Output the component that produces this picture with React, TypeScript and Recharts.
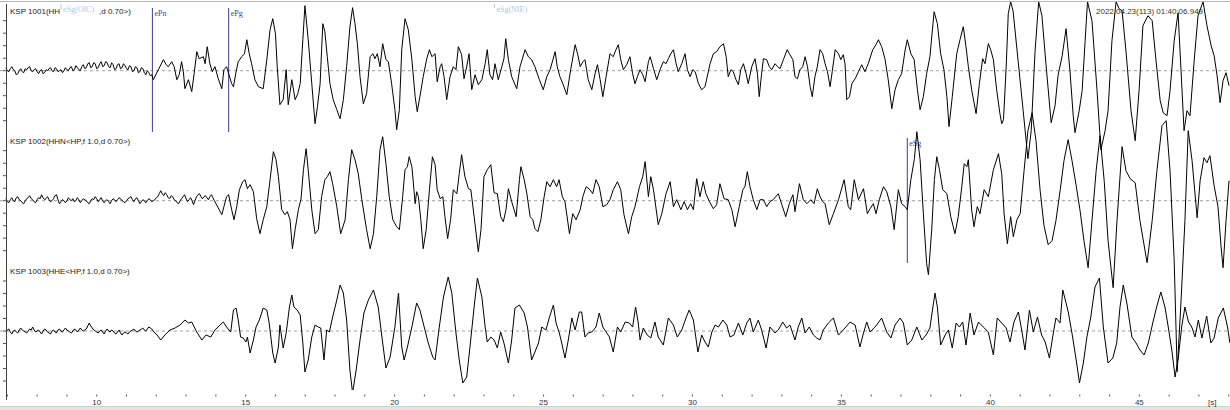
import { Line, LineChart, ReferenceLine, XAxis, YAxis } from "recharts";

// three seismogram channels, [time in s, amplitude]
const hhzTrace: [number, number][] = [
  [6.95, 3], [7.0, 0], [7.05, -1], [7.1, 2], [7.15, 4], [7.2, 1], [7.25, 0], [7.3, -4], [7.35, -3], [7.4, 0],
  [7.45, 2], [7.5, -1], [7.55, -2], [7.6, 2], [7.65, 1], [7.7, 3], [7.75, 4], [7.8, 0], [7.85, -1], [7.9, 1],
  [7.95, 2], [8.0, -1], [8.05, -3], [8.1, 0], [8.15, 1], [8.2, -3], [8.25, -2], [8.3, 1], [8.35, 0], [8.4, 2],
  [8.45, 3], [8.5, 0], [8.55, -1], [8.6, 3], [8.65, 2], [8.7, -1], [8.75, 0], [8.8, 1], [8.85, -2], [8.9, 0],
  [8.95, 3], [9.0, 1], [9.05, 0], [9.1, 3], [9.15, 4], [9.2, 0], [9.25, 1], [9.3, 5], [9.35, 3], [9.4, 1],
  [9.45, 0], [9.5, 4], [9.55, 6], [9.6, 2], [9.65, 3], [9.7, 7], [9.75, 8], [9.8, 3], [9.85, 4], [9.9, 8],
  [9.95, 7], [10.0, 2], [10.05, 3], [10.1, 7], [10.15, 9], [10.2, 4], [10.25, 5], [10.3, 9], [10.35, 8], [10.4, 4],
  [10.45, 3], [10.5, 8], [10.55, 6], [10.6, 1], [10.65, 2], [10.7, 6], [10.75, 7], [10.8, 2], [10.85, 3], [10.9, 7],
  [10.95, 5], [11.0, 2], [11.05, 1], [11.1, 5], [11.15, 4], [11.2, -1], [11.25, 0], [11.3, 4], [11.35, 3], [11.4, -2],
  [11.45, -1], [11.5, 3], [11.55, 2], [11.6, -2], [11.65, -4], [11.7, 0], [11.75, -2], [11.8, -5], [11.85, -4],
  [11.9, -9], [12.07, 1], [12.24, 11], [12.33, 6], [12.4, 4], [12.52, 9], [12.6, 4], [12.69, -9], [12.77, -4], [12.85, 9],
  [12.91, -1], [12.96, -18], [13.08, -9], [13.19, -21], [13.27, -3], [13.36, 19], [13.44, 12], [13.58, 14], [13.64, 7], [13.71, 24],
  [13.8, 7], [13.88, -1], [13.97, 4], [14.08, -8], [14.2, -18], [14.27, 1], [14.36, 4], [14.43, -3], [14.53, -13], [14.59, -16],
  [14.68, -1], [14.75, 9], [14.87, 14], [14.96, 17], [15.04, 31], [15.12, 17], [15.2, 7], [15.31, -9], [15.43, -16], [15.59, -18],
  [15.71, 11], [15.82, 41], [15.91, 52], [16.0, 37], [16.06, 4], [16.15, -34], [16.26, -29], [16.36, 1], [16.43, -34], [16.55, -9],
  [16.66, -29], [16.75, -23], [16.83, -13], [16.92, 31], [16.99, 65], [17.1, 31], [17.22, -13], [17.33, -53], [17.41, -36], [17.5, -13],
  [17.55, 21], [17.59, 47], [17.66, 39], [17.74, 14], [17.83, -13], [17.94, -29], [18.06, -39], [18.17, -48], [18.28, -29], [18.39, 4],
  [18.5, 44], [18.59, 63], [18.67, 47], [18.75, 27], [18.84, -6], [18.95, -33], [19.06, -23], [19.18, 14], [19.27, 17], [19.34, 12],
  [19.42, 17], [19.51, 4], [19.6, 27], [19.71, 11], [19.79, 9], [19.9, -13], [20.01, -39], [20.07, -59], [20.16, -39], [20.24, 21],
  [20.35, 52], [20.46, 41], [20.58, 11], [20.69, -26], [20.76, -41], [20.85, -26], [20.96, -6], [21.08, 12], [21.17, 21], [21.25, 14],
  [21.36, 17], [21.43, -11], [21.53, 4], [21.58, 7], [21.66, -6], [21.75, -29], [21.86, -6], [21.97, 4], [22.06, 1], [22.14, 24],
  [22.25, 16], [22.33, -8], [22.42, 4], [22.5, 17], [22.59, -19], [22.7, -4], [22.81, -14], [22.93, -9], [23.04, 7], [23.11, 21],
  [23.2, -4], [23.29, -9], [23.37, 7], [23.48, -9], [23.6, 4], [23.67, 12], [23.73, 32], [23.82, 11], [23.93, -6], [24.1, -18],
  [24.21, 4], [24.38, 21], [24.49, 14], [24.6, 11], [24.71, 4], [24.86, -9], [24.99, -19], [25.11, -6], [25.22, 1], [25.39, 19],
  [25.46, 4], [25.55, -6], [25.66, -14], [25.78, -24], [25.91, 1], [26.06, 26], [26.15, 16], [26.23, 4], [26.32, 9], [26.39, 11],
  [26.5, -9], [26.62, -19], [26.73, -3], [26.81, 6], [26.9, -9], [26.99, -26], [27.1, -6], [27.23, 17], [27.34, 14], [27.43, 21],
  [27.51, 26], [27.59, 11], [27.68, 1], [27.79, 6], [27.9, 14], [27.99, -3], [28.07, -13], [28.15, -6], [28.24, 1], [28.33, -4],
  [28.41, -11], [28.52, 9], [28.58, 14], [28.69, 2], [28.8, -9], [28.91, 1], [29.02, 9], [29.11, 7], [29.19, 12], [29.27, 17],
  [29.36, 21], [29.45, 7], [29.52, -1], [29.64, 7], [29.75, 17], [29.83, 1], [29.92, -6], [30.01, 1], [30.09, -1], [30.2, -13],
  [30.31, -19], [30.42, -16], [30.59, 7], [30.7, 17], [30.81, 19], [30.92, 24], [31.04, 27], [31.13, 14], [31.2, -6], [31.29, 1],
  [31.37, -1], [31.46, -9], [31.54, -14], [31.62, 1], [31.71, 7], [31.8, -3], [31.87, -13], [31.99, 4], [32.1, 12], [32.18, -3],
  [32.24, -26], [32.32, -3], [32.38, 12], [32.49, 11], [32.58, 4], [32.66, 1], [32.77, 7], [32.86, 4], [32.94, 2], [33.05, 11],
  [33.18, 21], [33.27, 16], [33.37, 11], [33.44, -6], [33.52, -8], [33.61, 1], [33.7, 4], [33.78, 14], [33.86, 4], [33.95, -16],
  [34.02, -26], [34.11, -6], [34.19, 4], [34.28, 21], [34.37, 17], [34.45, 7], [34.53, -1], [34.62, -16], [34.69, -1], [34.79, 21],
  [34.9, 17], [34.98, 11], [35.06, 16], [35.12, 7], [35.18, -29], [35.27, -26], [35.35, -13], [35.46, -8], [35.57, -1], [35.68, 6],
  [35.79, -1], [35.9, 7], [36.05, 21], [36.16, 26], [36.24, 31], [36.35, 24], [36.46, 12], [36.57, -9], [36.69, -38], [36.8, -19],
  [36.91, -9], [37.02, -3], [37.14, 21], [37.21, 31], [37.33, 17], [37.44, 11], [37.55, -19], [37.64, -39], [37.75, -26], [37.86, -3],
  [37.97, 14], [38.11, 59], [38.22, 47], [38.33, 17], [38.44, 1], [38.54, -26], [38.61, -56], [38.72, -26], [38.87, 17], [38.98, 31],
  [39.09, 44], [39.18, 24], [39.26, 4], [39.37, -19], [39.52, -43], [39.63, -13], [39.74, 12], [39.82, 7], [39.93, 27], [40.01, 21],
  [40.1, 11], [40.21, -19], [40.32, -43], [40.38, -53], [40.44, -49], [40.53, 4], [40.6, 57], [40.68, 69], [40.76, 60], [40.93, 10],
  [41.1, -40], [41.26, -88], [41.37, -60], [41.5, 20], [41.62, 69], [41.73, 55], [41.87, 5], [42.04, -52], [42.17, -35], [42.27, -5],
  [42.41, 15], [42.54, 42], [42.67, 0], [42.78, -45], [42.84, -62], [42.98, -40], [43.08, -20], [43.18, 30], [43.26, 69], [43.41, 50],
  [43.58, -20], [43.71, -79], [43.85, -60], [43.95, -40], [44.08, 30], [44.22, 69], [44.32, 62], [44.42, 60], [44.55, 20], [44.72, -40],
  [44.86, -70], [44.99, -20], [45.12, 45], [45.29, 55], [45.43, 50], [45.56, 10], [45.7, -30], [45.8, -42], [45.93, -45], [46.03, -20],
  [46.17, 30], [46.3, 58], [46.4, 0], [46.5, -60], [46.6, -40], [46.7, -45], [46.84, 10], [46.97, 55], [47.14, 69], [47.27, 45],
  [47.41, 25], [47.51, 15], [47.61, -5], [47.71, -32], [47.81, -10], [47.91, -2], [48.01, -15],
];

const hhnTrace: [number, number][] = [
  [6.95, 2], [7.0, -1], [7.05, -2], [7.1, 1], [7.15, 3], [7.2, 0], [7.25, -1], [7.3, 3], [7.35, 4], [7.4, 1],
  [7.45, 0], [7.5, -2], [7.55, -3], [7.6, 0], [7.65, 2], [7.7, 3], [7.75, 5], [7.8, 2], [7.85, 1], [7.9, -1],
  [7.95, -2], [8.0, 1], [8.05, 3], [8.1, 2], [8.15, 6], [8.2, 3], [8.25, 1], [8.3, 2], [8.35, 4], [8.4, 1],
  [8.45, -1], [8.5, 0], [8.55, 2], [8.6, 5], [8.65, 6], [8.7, 1], [8.75, -3], [8.8, -1], [8.85, 1], [8.9, 0],
  [8.95, -2], [9.0, 0], [9.05, 3], [9.1, 1], [9.15, 0], [9.2, 2], [9.25, -1], [9.3, 0], [9.35, 3], [9.4, 1],
  [9.45, -2], [9.5, 0], [9.55, 2], [9.6, 1], [9.65, 0], [9.7, -2], [9.75, -3], [9.8, 0], [9.85, 2], [9.9, 1],
  [9.95, 4], [10.0, 2], [10.05, -1], [10.1, 1], [10.15, 3], [10.2, 0], [10.25, -2], [10.3, 0], [10.35, 1], [10.4, -1],
  [10.45, -3], [10.5, 0], [10.55, 2], [10.6, 1], [10.65, -1], [10.7, 1], [10.75, 3], [10.8, 2], [10.85, 0], [10.9, -1],
  [10.95, -2], [11.0, 0], [11.05, 2], [11.1, 3], [11.15, 4], [11.2, 1], [11.25, -1], [11.3, 2], [11.35, 3], [11.4, 0],
  [11.45, -3], [11.5, -1], [11.55, 1], [11.6, 0], [11.65, -2], [11.7, 0], [11.75, 2], [11.8, 1], [11.85, -1], [11.9, 0],
  [11.95, 1], [12.0, 3], [12.05, 4], [12.1, 7], [12.15, 10], [12.2, 7], [12.25, 5], [12.3, 8], [12.35, 6], [12.4, 3],
  [12.45, 2], [12.5, 5], [12.55, 4], [12.6, 1], [12.65, 0], [12.7, -2], [12.75, -3], [12.8, 0], [12.85, 2], [12.9, 4],
  [12.95, 6], [13.0, 2], [13.05, -1], [13.1, 1], [13.15, 3], [13.2, 0], [13.25, -4], [13.3, 0], [13.35, 4], [13.4, 6],
  [13.45, 7], [13.5, 4], [13.55, 2], [13.6, 4], [13.65, 5], [13.7, 3], [13.75, 1], [13.8, 4], [13.85, 6], [13.9, 3],
  [13.95, 0], [14.2, -14], [14.27, -6], [14.36, 4], [14.43, 6], [14.53, -9], [14.61, -19], [14.7, -6], [14.79, 11], [14.9, 19],
  [14.98, 21], [15.06, 12], [15.15, 16], [15.26, 9], [15.37, -18], [15.48, -33], [15.59, -19], [15.71, -6], [15.82, 21], [15.93, 49],
  [16.02, 41], [16.1, 24], [16.21, -9], [16.32, -14], [16.4, -11], [16.49, -19], [16.57, -48], [16.66, -29], [16.77, -9], [16.86, 2],
  [16.94, 31], [17.03, 52], [17.1, 31], [17.22, -9], [17.33, -33], [17.44, -29], [17.55, 4], [17.66, 21], [17.74, 24], [17.83, 29],
  [17.92, 17], [18.06, -6], [18.19, -33], [18.34, -19], [18.45, 21], [18.56, 51], [18.67, 41], [18.78, 27], [18.9, 1], [19.06, -29],
  [19.18, -48], [19.29, -33], [19.4, 4], [19.51, 51], [19.6, 64], [19.71, 37], [19.82, 4], [19.94, -19], [20.07, -26], [20.16, -29],
  [20.27, 4], [20.35, 31], [20.43, 34], [20.49, 44], [20.58, 34], [20.65, 11], [20.69, -3], [20.74, 9], [20.8, 4], [20.88, -19],
  [20.96, -48], [21.06, -29], [21.17, 11], [21.27, 44], [21.36, 36], [21.43, 11], [21.53, 2], [21.62, 4], [21.69, -16], [21.78, -38],
  [21.88, -19], [21.97, 11], [22.09, 7], [22.17, 27], [22.25, 46], [22.36, 24], [22.48, 12], [22.56, 11], [22.67, -16], [22.81, -51],
  [22.9, -29], [23.0, 24], [23.11, 31], [23.23, 36], [23.34, 8], [23.45, 7], [23.56, -16], [23.65, -21], [23.74, -9], [23.82, 12],
  [23.93, -1], [24.08, -16], [24.19, 21], [24.24, 34], [24.35, 21], [24.44, 7], [24.55, -16], [24.64, -19], [24.71, -28], [24.81, -31],
  [24.91, -19], [25.02, 4], [25.11, 19], [25.22, 14], [25.33, 21], [25.44, 14], [25.52, 21], [25.63, 4], [25.72, -1], [25.87, -33],
  [25.98, -13], [26.09, -19], [26.23, -9], [26.32, 4], [26.43, 14], [26.56, 11], [26.65, 7], [26.76, 21], [26.87, 14], [26.99, -6],
  [27.12, -4], [27.23, 1], [27.34, 11], [27.48, 19], [27.59, 11], [27.7, -14], [27.85, -33], [27.96, -16], [28.07, -6], [28.22, 14],
  [28.33, 24], [28.41, 39], [28.52, 4], [28.6, 24], [28.69, 11], [28.85, -24], [28.97, -13], [29.11, 7], [29.25, 19], [29.36, -6],
  [29.47, 1], [29.61, -9], [29.72, -1], [29.83, -9], [29.94, -3], [30.03, -9], [30.14, 22], [30.25, 4], [30.36, 19], [30.45, 7],
  [30.57, -1], [30.7, -8], [30.81, -4], [30.92, 17], [31.06, 2], [31.2, 1], [31.32, -9], [31.43, -26], [31.57, -6], [31.69, 11],
  [31.76, 14], [31.84, 29], [31.93, 14], [32.04, 1], [32.16, -9], [32.27, 1], [32.38, 1], [32.49, -6], [32.6, -1], [32.71, 1],
  [32.88, 7], [33.0, -4], [33.13, -16], [33.25, -3], [33.37, 6], [33.44, -11], [33.59, 17], [33.72, 1], [33.84, -3], [33.97, 1],
  [34.08, -3], [34.19, 12], [34.28, 4], [34.37, -1], [34.45, -3], [34.59, -24], [34.73, -13], [34.9, 1], [35.09, 21], [35.23, -6],
  [35.31, -9], [35.43, 21], [35.57, 1], [35.74, 12], [35.87, -13], [35.96, -8], [36.07, -3], [36.16, -13], [36.27, 1], [36.41, 14],
  [36.52, 9], [36.66, -6], [36.77, -29], [36.91, 11], [37.02, -3], [37.14, -6], [37.21, -9], [37.33, 21], [37.45, 42], [37.53, 69],
  [37.64, 41], [37.75, -13], [37.86, -63], [37.92, -74], [38.03, -29], [38.12, 21], [38.2, 44], [38.29, 31], [38.4, 11], [38.54, 7],
  [38.67, -16], [38.81, -33], [38.92, -16], [39.04, 14], [39.12, 37], [39.21, 34], [39.26, 41], [39.37, -9], [39.45, -26], [39.56, -6],
  [39.65, -13], [39.79, 11], [39.93, 4], [40.1, 31], [40.27, 47], [40.38, 27], [40.46, -13], [40.57, -43], [40.68, -16], [40.77, -36],
  [40.89, -19], [41.0, -13], [41.13, 30], [41.26, 70], [41.4, 88], [41.53, 60], [41.67, 10], [41.8, -25], [41.94, -44], [42.07, -40],
  [42.2, -20], [42.34, 10], [42.47, 40], [42.61, 61], [42.74, 40], [42.88, 15], [43.01, -10], [43.14, -40], [43.28, -67], [43.41, -20],
  [43.55, 30], [43.68, 65], [43.82, 20], [43.95, -40], [44.12, -87], [44.25, -20], [44.42, 54], [44.55, 30], [44.69, 22], [44.86, 18],
  [45.02, -20], [45.26, -62], [45.43, -20], [45.59, 30], [45.76, 75], [45.9, 80], [46.03, 30], [46.17, -60], [46.27, -171], [46.4, -100],
  [46.53, -20], [46.64, 70], [46.77, 40], [46.94, -17], [47.04, 20], [47.17, 43], [47.27, 38], [47.37, 45], [47.51, 15], [47.64, -6],
  [47.74, -45], [47.81, -67], [47.91, -20], [48.01, 20],
];

const hheTrace: [number, number][] = [
  [6.95, -1], [7.0, 1], [7.05, 2], [7.1, -1], [7.15, -3], [7.2, 0], [7.25, 1], [7.3, -1], [7.35, -2], [7.4, 1],
  [7.45, 3], [7.5, 1], [7.55, 0], [7.6, -1], [7.65, -2], [7.7, 0], [7.75, 2], [7.8, 1], [7.85, 4], [7.9, 1],
  [7.95, -1], [8.0, 0], [8.05, 1], [8.1, -1], [8.15, -3], [8.2, 0], [8.25, 2], [8.3, 1], [8.35, -1], [8.4, -2],
  [8.45, -3], [8.5, 0], [8.55, 1], [8.6, -1], [8.65, -2], [8.7, 1], [8.75, 2], [8.8, 0], [8.85, -1], [8.9, 1],
  [8.95, 3], [9.0, 1], [9.05, 0], [9.1, -1], [9.15, -2], [9.2, 0], [9.25, 2], [9.3, 1], [9.35, -1], [9.4, 1],
  [9.45, 3], [9.5, 1], [9.55, 0], [9.6, 1], [9.65, 2], [9.7, 5], [9.75, 8], [9.8, 5], [9.85, 3], [9.9, 1],
  [9.95, 0], [10.0, -1], [10.05, -2], [10.1, 0], [10.15, 1], [10.2, -1], [10.25, -3], [10.3, 0], [10.35, 2], [10.4, 0],
  [10.45, -1], [10.5, 1], [10.55, 0], [10.6, -2], [10.65, -3], [10.7, -1], [10.75, 1], [10.8, -2], [10.85, -4], [10.9, -2],
  [10.95, -1], [11.0, -2], [11.05, -3], [11.1, -1], [11.15, 0], [11.2, 1], [11.25, 2], [11.3, 0], [11.35, -1], [11.4, 0],
  [11.45, 1], [11.5, 2], [11.55, 3], [11.6, 1], [11.65, 0], [11.7, 2], [11.75, 4], [11.8, 3], [11.85, 2], [11.9, 0],
  [11.95, -2], [12.0, -3], [12.05, -5], [12.1, -7], [12.15, -9], [12.29, -4], [12.46, 1], [12.63, 3], [12.8, 6], [12.96, 11],
  [13.08, 8], [13.19, 9], [13.36, -1], [13.53, -9], [13.67, -4], [13.83, -6], [13.97, 1], [14.14, 6], [14.25, 9], [14.36, 4],
  [14.5, -1], [14.59, 21], [14.68, 23], [14.75, 11], [14.83, -6], [14.92, -7], [15.01, -11], [15.06, -6], [15.15, -22], [15.26, -9],
  [15.35, 4], [15.46, 11], [15.59, 23], [15.71, 21], [15.79, 8], [15.91, -22], [15.99, -32], [16.1, -16], [16.15, 6], [16.26, -17],
  [16.36, -2], [16.47, 24], [16.55, 36], [16.62, 24], [16.73, 21], [16.83, 16], [16.92, -12], [16.99, -41], [17.1, -29], [17.22, -6],
  [17.33, 6], [17.44, 4], [17.52, 3], [17.63, -29], [17.72, 1], [17.81, -1], [17.92, 14], [18.06, 31], [18.17, 46], [18.28, 38],
  [18.39, 11], [18.5, -39], [18.59, -62], [18.71, -39], [18.84, -9], [18.97, 18], [19.12, 31], [19.29, 41], [19.45, 24], [19.6, -12],
  [19.71, -37], [19.85, -26], [20.01, 4], [20.13, 38], [20.24, -16], [20.32, -29], [20.43, -16], [20.58, 4], [20.74, 28], [20.85, 21],
  [20.96, 8], [21.13, -12], [21.28, -26], [21.36, -29], [21.5, 4], [21.64, 34], [21.8, 54], [21.92, 38], [22.06, -2], [22.17, -29],
  [22.29, -52], [22.42, -46], [22.53, -16], [22.67, 24], [22.78, 53], [22.93, 34], [23.04, 4], [23.11, -11], [23.23, -6], [23.34, -9],
  [23.45, -17], [23.56, -1], [23.67, -12], [23.82, -32], [23.93, -9], [24.04, 23], [24.19, 26], [24.35, 18], [24.46, 4], [24.6, -29],
  [24.71, -21], [24.83, -12], [24.94, 4], [25.08, 1], [25.19, 13], [25.33, 26], [25.42, 8], [25.53, -2], [25.61, -12], [25.72, -27],
  [25.83, -9], [25.95, 13], [26.06, 1], [26.2, 19], [26.28, 19], [26.39, -6], [26.5, -2], [26.62, -1], [26.76, 4], [26.87, 18],
  [26.99, 4], [27.1, -1], [27.21, -6], [27.34, -21], [27.48, 4], [27.59, -1], [27.74, 9], [27.88, 8], [27.99, 4], [28.09, 24],
  [28.18, 8], [28.24, -9], [28.35, 3], [28.48, -4], [28.6, -7], [28.74, 9], [28.85, -6], [29.02, -14], [29.19, 13], [29.36, 6],
  [29.49, -6], [29.64, 1], [29.78, 13], [29.89, 21], [30.03, 11], [30.18, -21], [30.31, -4], [30.42, -11], [30.53, -16], [30.65, -1],
  [30.76, 6], [30.87, 4], [31.02, 11], [31.15, 6], [31.26, -6], [31.39, -4], [31.54, 8], [31.69, -4], [31.82, 8], [31.93, 13],
  [32.04, -1], [32.21, 11], [32.32, 1], [32.47, -17], [32.6, 4], [32.77, -2], [32.88, 1], [33.03, 9], [33.16, 3], [33.27, 6],
  [33.44, -9], [33.55, 4], [33.67, 13], [33.78, -2], [33.92, 4], [34.06, -4], [34.17, -7], [34.28, -9], [34.39, 1], [34.56, 8],
  [34.73, 13], [34.9, -4], [35.06, 1], [35.29, 9], [35.46, 6], [35.62, -16], [35.74, -2], [35.85, 9], [35.96, -1], [36.13, 4],
  [36.35, 13], [36.52, -1], [36.66, -7], [36.8, 6], [36.97, 13], [37.08, 8], [37.21, -14], [37.36, -9], [37.53, 4], [37.7, -9],
  [37.84, -4], [37.97, 3], [38.07, 24], [38.14, 38], [38.22, 24], [38.33, -14], [38.48, -4], [38.59, 1], [38.72, -17], [38.85, 8],
  [38.96, 4], [39.07, 9], [39.18, -14], [39.32, 18], [39.45, -4], [39.6, 9], [39.76, 4], [39.93, -1], [40.1, -24], [40.23, 13],
  [40.38, 8], [40.53, 3], [40.66, -11], [40.79, 9], [40.94, 19], [41.05, 1], [41.16, -19], [41.31, 21], [41.44, -1], [41.58, 14],
  [41.72, -4], [41.84, -11], [41.98, -27], [42.09, -6], [42.2, 13], [42.34, 8], [42.43, 41], [42.54, 28], [42.62, 18], [42.76, -6],
  [42.88, -29], [42.99, -52], [43.12, -32], [43.24, -6], [43.37, 14], [43.51, 44], [43.66, 53], [43.79, 4], [43.95, -32], [44.11, -27],
  [44.24, -12], [44.35, 24], [44.46, 46], [44.58, 28], [44.75, -6], [44.89, -12], [45.02, -19], [45.16, -24], [45.3, -12], [45.45, 8],
  [45.58, 24], [45.72, 39], [45.86, 24], [45.97, 4], [46.09, -19], [46.2, -46], [46.31, -26], [46.42, 4], [46.53, 24], [46.65, 9],
  [46.76, 4], [46.87, -6], [46.98, 11], [47.1, -7], [47.26, 15], [47.4, -12], [47.51, -7], [47.65, 13], [47.82, 23], [47.96, 4],
  [48.04, -12],
];

const secondTicks = [
  7, 8, 9, 10, 11, 12, 13, 14, 15, 16, 17, 18, 19, 20, 21, 22, 23, 24, 25, 26, 27,
  28, 29, 30, 31, 32, 33, 34, 35, 36, 37, 38, 39, 40, 41, 42, 43, 44, 45, 46, 47, 48,
];
const labelledTicks = [10, 15, 20, 25, 30, 35, 40, 45];

const channelLabels = [
  "KSP 1001(HHZ<HP,f 1.0,d 0.70>)",
  "KSP 1002(HHN<HP,f 1.0,d 0.70>)",
  "KSP 1003(HHE<HP,f 1.0,d 0.70>)",
];
const stamp = "2022.04.23(113) 01:40:06.949";

const T_MIN = 6.754;
const T_MAX = 48.043;
const PLOT_H = 390;
// vertical position of each channel's zero line, from the top
const baselines = [70.7, 200.7, 331];

const SANS = "'Liberation Sans', Arial, sans-serif";
const SERIF = "'Liberation Serif', 'Times New Roman', serif";
const PICK = "#3c3c9a";
const FAINT = "#a9c8e8";

const toRows = (pts: [number, number][], base: number) =>
  pts.map(([t, a]) => ({ t, v: a - base }));

const hhzRows = toRows(hhzTrace, baselines[0]);
const hhnRows = toRows(hhnTrace, baselines[1]);
const hheRows = toRows(hheTrace, baselines[2]);

function TopTick(props: any) {
  const { x } = props;
  return <line x1={x} x2={x} y1={4} y2={6.5} stroke="#666" />;
}

function BottomTick(props: any) {
  const { x, payload } = props;
  const v = payload.value;
  return (
    <g>
      <line x1={x} x2={x} y1={394.5} y2={396.5} stroke="#555" />
      {labelledTicks.includes(v) ? (
        <text x={x} y={405} textAnchor="middle" fontSize={8} fill="#333" fontFamily={SANS}>
          {v}
        </text>
      ) : null}
    </g>
  );
}

function PickLabel(props: any) {
  const { viewBox, text, color } = props;
  if (!viewBox) return null;
  return (
    <text x={viewBox.x + 2} y={viewBox.y + 8} fontSize={8} fill={color} fontFamily={SERIF}>
      {text}
    </text>
  );
}

const tickOffsets = [-50, -37.5, -25, -12.5, 0, 12.5, 25, 37.5, 50];

export default function App() {
  return (
    <div
      style={{
        position: "absolute",
        left: 0,
        top: 0,
        width: 1230,
        height: 410,
        background: "#fff",
        overflow: "hidden",
      }}
    >
      <LineChart width={1230} height={410} margin={{ top: 0, right: 0, bottom: 0, left: 0 }}>
        <XAxis
          xAxisId="top"
          orientation="top"
          type="number"
          dataKey="t"
          domain={[T_MIN, T_MAX]}
          ticks={secondTicks}
          interval={0}
          height={0}
          axisLine={false}
          tickLine={false}
          tick={TopTick}
          allowDataOverflow
        />
        <XAxis
          type="number"
          dataKey="t"
          domain={[T_MIN, T_MAX]}
          ticks={secondTicks}
          interval={0}
          height={20}
          axisLine={false}
          tickLine={false}
          tick={BottomTick}
          allowDataOverflow
        />
        <YAxis hide type="number" domain={[-PLOT_H, 0]} allowDataOverflow />

        {baselines.map((b) => (
          <ReferenceLine key={b} y={-b} stroke="#a0a0a0" strokeDasharray="3 3" />
        ))}

        <ReferenceLine
          segment={[{ x: 11.87, y: -8 }, { x: 11.87, y: -132 }]}
          stroke={PICK}
          label={(p: any) => <PickLabel {...p} text="ePn" color={PICK} />}
        />
        <ReferenceLine
          segment={[{ x: 14.43, y: -8 }, { x: 14.43, y: -132 }]}
          stroke={PICK}
          label={(p: any) => <PickLabel {...p} text="ePg" color={PICK} />}
        />
        <ReferenceLine
          segment={[{ x: 37.21, y: -138 }, { x: 37.21, y: -263 }]}
          stroke={PICK}
          label={(p: any) => <PickLabel {...p} text="eSg" color={PICK} />}
        />
        <ReferenceLine
          segment={[{ x: 23.35, y: -4 }, { x: 23.35, y: -8 }]}
          stroke={FAINT}
          label={(p: any) => <PickLabel {...p} text="eSg(NIE)" color={FAINT} />}
        />

        <Line data={hhzRows} dataKey="v" type="linear" stroke="#000" strokeWidth={1} dot={false} activeDot={false} isAnimationActive={false} />
        <Line data={hhnRows} dataKey="v" type="linear" stroke="#000" strokeWidth={1} dot={false} activeDot={false} isAnimationActive={false} />
        <Line data={hheRows} dataKey="v" type="linear" stroke="#000" strokeWidth={1} dot={false} activeDot={false} isAnimationActive={false} />
      </LineChart>

      <svg
        width={1230}
        height={410}
        style={{ position: "absolute", left: 0, top: 0, pointerEvents: "none" }}
      >
        <line x1={0} x2={1230} y1={1.5} y2={1.5} stroke="#b8b8b8" />
        <rect x={0} y={407} width={1230} height={3} fill="#e4e4e4" />
        <line x1={0} x2={1230} y1={406.5} y2={406.5} stroke="#cfcfcf" />

        <line x1={6.5} x2={6.5} y1={4} y2={400} stroke="#444" />
        {baselines.map((b) =>
          tickOffsets.map((o) => (
            <line key={`${b}-${o}`} x1={3} x2={6.5} y1={b + o} y2={b + o} stroke="#555" />
          ))
        )}

        {/* first channel label is partly covered by the eSg(OIC) pick tag */}
        <text x={10} y={baselines[0] - 57} fontSize={8} fill="#222" fontFamily={SANS}>
          KSP 1001(HH
        </text>
        <line x1={61} x2={61} y1={4} y2={9} stroke={FAINT} />
        <text x={63} y={12} fontSize={8} fill={FAINT} fontFamily={SERIF}>
          eSg(OIC)
        </text>
        <text x={99} y={baselines[0] - 57} fontSize={8} fill="#222" fontFamily={SANS}>
          ,d 0.70&gt;)
        </text>
        {channelLabels.slice(1).map((label, i) => (
          <text key={label} x={10} y={baselines[i + 1] - 57} fontSize={8} fill="#222" fontFamily={SANS}>
            {label}
          </text>
        ))}

        <text x={1096} y={13.5} fontSize={8} fill="#333" fontFamily={SANS}>
          {stamp}
        </text>
        <text x={1208} y={405} fontSize={8} fill="#333" fontFamily={SANS}>
          [s]
        </text>
      </svg>
    </div>
  );
}
